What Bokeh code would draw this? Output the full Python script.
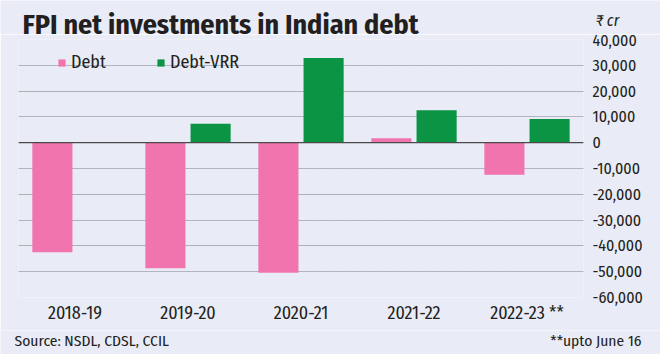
from bokeh.plotting import figure
from bokeh.layouts import column
from bokeh.models import (FactorRange, Range1d, LinearAxis, FixedTicker,
                          NumeralTickFormatter, Span, Label, Legend, LegendItem,
                          ColumnDataSource, Grid)
from bokeh.transform import dodge
from bokeh.embed import file_html
from bokeh.resources import INLINE

# ---- data ----
years = ["2018-19", "2019-20", "2020-21", "2021-22", "2022-23 **"]
debt = [-42500, -48700, -50400, 1700, -12400]
debt_vrr = [0, 7300, 32800, 12600, 9200]
y_ticks = [-60000, -50000, -40000, -30000, -20000, -10000, 0,
           10000, 20000, 30000, 40000]

title_text = "FPI net investments in Indian debt"
unit_text = "₹ cr"
source_text = "Source: NSDL, CDSL, CCIL"
note_text = "**upto June 16"

# ---- style ----
FONT = "Fira Sans Condensed"
BG = "#e9ecf7"
PINK = "#f274ae"
GREEN = "#0a9444"
TXT = "#231f20"


def no_align(f):
    if "frame_align" in f.properties():
        f.frame_align = False


def text_strip(h):
    f = figure(width=660, height=h, output_backend="svg", toolbar_location=None,
               x_range=Range1d(0, 660), y_range=Range1d(0, h),
               x_axis_location=None, y_axis_location=None,
               min_border=0, min_border_left=0, min_border_right=0,
               min_border_top=0, min_border_bottom=0)
    f.background_fill_color = BG
    f.border_fill_color = BG
    f.outline_line_color = None
    f.grid.visible = False
    no_align(f)
    return f


# ---- top strip: title and unit ----
top = text_strip(34)
top.add_layout(Label(x=22, y=10, x_units="screen", y_units="screen",
                     text=title_text, text_font=FONT, text_font_style="bold",
                     text_font_size="28px", text_color=TXT,
                     text_baseline="middle"))
top.add_layout(Label(x=595, y=14, x_units="screen", y_units="screen",
                     text=unit_text, text_font=FONT, text_font_style="italic",
                     text_font_size="16px", text_color=TXT,
                     text_baseline="middle"))

# ---- chart ----
src = ColumnDataSource(dict(year=years, debt=debt, vrr=debt_vrr))

p = figure(width=660, height=296, output_backend="svg", toolbar_location=None,
           x_range=FactorRange(*years, range_padding=0),
           y_range=Range1d(-60000, 40000),
           y_axis_location=None, min_border_left=18, min_border_right=77,
           min_border_top=5, min_border_bottom=33)
p.background_fill_color = BG
p.border_fill_color = BG
p.outline_line_color = None
no_align(p)

r1 = p.vbar(x=dodge("year", -0.2, range=p.x_range), top="debt", width=0.355,
            source=src, color=PINK, line_color=None)
r2 = p.vbar(x=dodge("year", 0.2, range=p.x_range), top="vrr", width=0.355,
            source=src, color=GREEN, line_color=None)

p.xgrid.visible = False
p.add_layout(Grid(dimension=1, ticker=FixedTicker(ticks=y_ticks),
                  grid_line_color="#7a7d88", grid_line_dash="1 1",
                  grid_line_width=1, level="underlay"))

p.add_layout(Span(location=0, dimension="width", line_color="#4a4a4a",
                  line_width=1.3))

ax = LinearAxis(ticker=FixedTicker(ticks=y_ticks),
                formatter=NumeralTickFormatter(format="0,0"))
ax.axis_line_color = None
ax.major_tick_line_color = None
ax.minor_tick_line_color = None
ax.major_tick_out = 0
ax.major_tick_in = 0
ax.minor_tick_out = 0
ax.minor_tick_in = 0
ax.major_label_standoff = 9
ax.major_label_text_font = FONT
ax.major_label_text_font_size = "16px"
ax.major_label_text_color = TXT
p.add_layout(ax, "right")

xa = p.xaxis[0]
xa.axis_line_color = None
xa.major_tick_line_color = None
xa.minor_tick_line_color = None
xa.major_tick_out = 0
xa.major_tick_in = 0
xa.minor_tick_out = 0
xa.minor_tick_in = 0
xa.major_label_standoff = 4
xa.major_label_text_font = FONT
xa.major_label_text_font_size = "18px"
xa.major_label_text_color = TXT

legend = Legend(items=[LegendItem(label="Debt", renderers=[r1]),
                       LegendItem(label="Debt-VRR", renderers=[r2])],
                orientation="horizontal", location=(39, 224),
                glyph_width=9, glyph_height=9, label_standoff=5,
                label_width=85, spacing=0, padding=0, margin=0,
                label_text_font=FONT, label_text_font_size="18px",
                label_text_color=TXT, background_fill_alpha=0,
                border_line_alpha=0)
p.add_layout(legend, "center")

# ---- bottom strip: source and note ----
bot = text_strip(24)
bot.add_layout(Label(x=14, y=13.5, x_units="screen", y_units="screen",
                     text=source_text, text_font=FONT,
                     text_font_size="15.5px", text_color=TXT,
                     text_baseline="middle"))
bot.add_layout(Label(x=641, y=13.5, x_units="screen", y_units="screen",
                     text=note_text, text_font=FONT, text_align="right",
                     text_font_size="15.5px", text_color=TXT,
                     text_baseline="middle"))

layout = column(top, p, bot, spacing=0)
open("out.html", "w").write(file_html(layout, INLINE))
